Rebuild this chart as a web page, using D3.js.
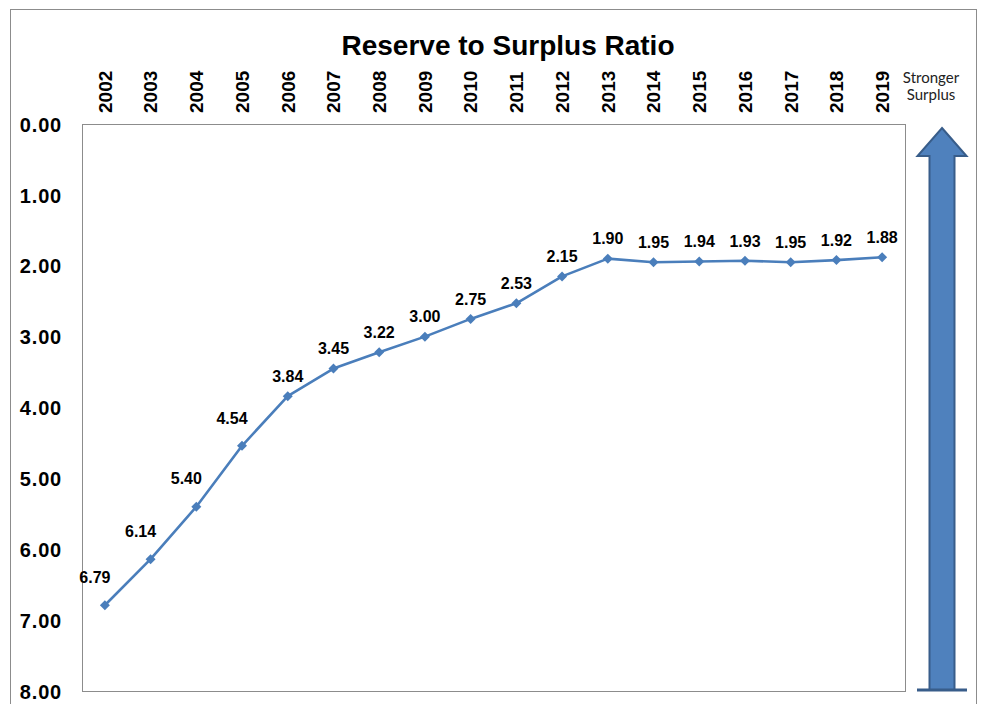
<!DOCTYPE html>
<html>
<head>
<meta charset="utf-8">
<script src="https://cdn.jsdelivr.net/npm/d3@7"></script>
<style>
  html, body { margin: 0; padding: 0; background: #fff; }
  svg { display: block; }
</style>
</head>
<body>
<svg id="chart" width="983" height="704"></svg>
<script>
const years = ["2002","2003","2004","2005","2006","2007","2008","2009","2010","2011","2012","2013","2014","2015","2016","2017","2018","2019"];
const ratios = [6.79, 6.14, 5.40, 4.54, 3.84, 3.45, 3.22, 3.00, 2.75, 2.53, 2.15, 1.90, 1.95, 1.94, 1.93, 1.95, 1.92, 1.88];
const yTicks = [0, 1, 2, 3, 4, 5, 6, 7, 8];
const title = "Reserve to Surplus Ratio";
const arrowLabel = ["Stronger", "Surplus"];

const svg = d3.select("#chart");
const plot = { left: 82, top: 124, right: 905, bottom: 691 };

// outer border
svg.append("rect")
  .attr("x", 10.5).attr("y", 9.5)
  .attr("width", 966).attr("height", 710)
  .attr("fill", "#fff").attr("stroke", "#8c8c8c").attr("stroke-width", 1);

const x = d3.scaleBand().domain(years).range([plot.left, plot.right]).padding(0);
const y = d3.scaleLinear().domain([0, 8]).range([plot.top, plot.bottom]);
const cx = d => x(d) + x.bandwidth() / 2;

// plot area border
svg.append("rect")
  .attr("x", plot.left + 0.5).attr("y", plot.top + 0.5)
  .attr("width", plot.right - plot.left).attr("height", plot.bottom - plot.top)
  .attr("fill", "none").attr("stroke", "#8c8c8c").attr("stroke-width", 1);

// title
svg.append("text")
  .attr("x", 508).attr("y", 55)
  .attr("text-anchor", "middle")
  .attr("font-family", "Liberation Sans, Arial, sans-serif")
  .attr("font-weight", "bold")
  .attr("font-size", 28)
  .attr("fill", "#000")
  .text(title);

// y axis (reversed), labels only
const yAxis = d3.axisLeft(y).tickValues(yTicks).tickFormat(d3.format(".2f")).tickSize(0).tickPadding(0);
const yg = svg.append("g").attr("transform", `translate(62,0)`).call(yAxis);
yg.select(".domain").remove();
yg.selectAll("text")
  .attr("font-family", "Liberation Sans, Arial, sans-serif")
  .attr("font-weight", "bold")
  .attr("font-size", 20)
  .attr("letter-spacing", 0.8)
  .attr("fill", "#000")
  .attr("dy", "0.36em");

// x axis labels on top, rotated
const xg = svg.append("g");
xg.selectAll("text").data(years).join("text")
  .attr("transform", d => `translate(${cx(d)},113) rotate(-90)`)
  .attr("dy", "0.36em")
  .attr("text-anchor", "start")
  .attr("font-family", "Liberation Sans, Arial, sans-serif")
  .attr("font-weight", "bold")
  .attr("font-size", 19)
  .attr("fill", "#000")
  .text(d => d);

// line
const pts = years.map((yr, i) => ({ yr, v: ratios[i] }));
const line = d3.line().x(d => cx(d.yr)).y(d => y(d.v));
svg.append("path")
  .datum(pts)
  .attr("d", line)
  .attr("fill", "none")
  .attr("stroke", "#4A7EBB")
  .attr("stroke-width", 2.6)
  .attr("stroke-linejoin", "round");

// markers
svg.append("g").selectAll("path").data(pts).join("path")
  .attr("d", d => {
    const px = cx(d.yr), py = y(d.v), r = 5;
    return `M${px},${py - r}L${px + r},${py}L${px},${py + r}L${px - r},${py}Z`;
  })
  .attr("fill", "#4A7EBB");

// data labels: shift up-left where the following segment is steep
svg.append("g").selectAll("text").data(pts).join("text")
  .each(function(d, i) {
    let dx = 0, dy = -20;
    if (i < pts.length - 1) {
      const n = pts[i + 1];
      const slope = (y(d.v) - y(n.v)) / (cx(n.yr) - cx(d.yr));
      if (slope > 0.7) { dx = -10; dy = -28; }
    }
    d3.select(this)
      .attr("x", cx(d.yr) + dx)
      .attr("y", y(d.v) + dy)
      .attr("dy", "0.36em");
  })
  .attr("text-anchor", "middle")
  .attr("font-family", "Liberation Sans, Arial, sans-serif")
  .attr("font-weight", "bold")
  .attr("font-size", 16)
  .attr("fill", "#000")
  .text(d => d3.format(".2f")(d.v));

// arrow annotation
const ax = 942, tipY = y(0) + 4, headY = tipY + 28, baseY = y(8) - 1;
const headHalf = 24.5, shaftHalf = 12.5;
svg.append("path")
  .attr("d", `M${ax},${tipY}L${ax + headHalf},${headY}L${ax + shaftHalf},${headY}L${ax + shaftHalf},${baseY}L${ax - shaftHalf},${baseY}L${ax - shaftHalf},${headY}L${ax - headHalf},${headY}Z`)
  .attr("fill", "#4F81BD")
  .attr("stroke", "#385D8A")
  .attr("stroke-width", 2)
  .attr("stroke-linejoin", "miter");
svg.append("line")
  .attr("x1", ax - 25).attr("x2", ax + 25)
  .attr("y1", baseY).attr("y2", baseY)
  .attr("stroke", "#385D8A").attr("stroke-width", 3);

svg.append("g").selectAll("text").data(arrowLabel).join("text")
  .attr("x", 931)
  .attr("y", (d, i) => 83 + i * 17)
  .attr("text-anchor", "middle")
  .attr("font-family", "Lato, Open Sans, sans-serif")
  .attr("font-size", 15)
  .attr("fill", "#222")
  .text(d => d);
</script>
</body>
</html>
